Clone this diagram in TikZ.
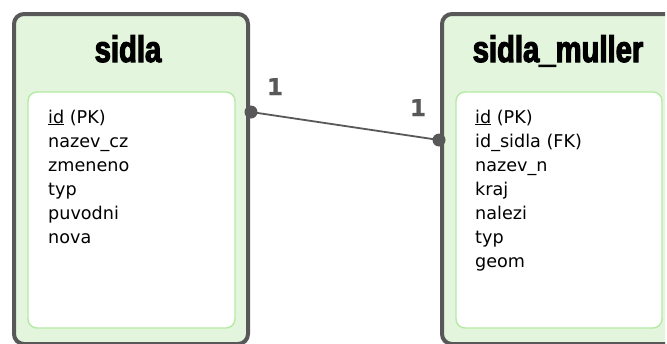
\documentclass[tikz,border=0pt]{standalone}
\usepackage{fontspec}
\setmainfont{DejaVu Sans}
\newfontfamily\titlefont[FakeStretch=0.79,FakeBold=3]{Liberation Sans Bold}
\newfontfamily\cardfont[FakeBold=1]{DejaVu Sans Bold}
\begin{document}
\definecolor{tablefill}{HTML}{E4F5DE}
\definecolor{tableedge}{HTML}{585858}
\definecolor{fieldedge}{HTML}{B4EAA4}
\begin{tikzpicture}[x=1pt,y=-1pt,
  tablebox/.style={draw=tableedge,fill=tablefill,line width=4pt,rounded corners=10pt,
    minimum width=234pt,minimum height=330pt,inner sep=0pt,outer sep=0pt},
  fieldbox/.style={draw=fieldedge,fill=white,line width=1.4pt,rounded corners=9pt,
    minimum height=236pt,inner sep=0pt,outer sep=0pt},
  tabletitle/.style={anchor=base,inner sep=0pt,font=\titlefont\fontsize{37}{37}\selectfont},
  fieldtext/.style={anchor=base west,inner sep=0pt,font=\fontsize{17.6}{20}\selectfont,text=black},
  relline/.style={draw=tableedge,line width=1.8pt},
  reldot/.style={fill=tableedge},
  cardlabel/.style={anchor=base,inner sep=0pt,text=tableedge,font=\cardfont\fontsize{23}{23}\selectfont}]
\useasboundingbox (0,0) rectangle (667,343);
\clip (0,0) rectangle (665,343);

% table: sidla
\node[tablebox] (sidla) at (131,179) {};
\node[fieldbox,minimum width=207pt] (sidlaFields) at (131.5,210) {};
\node[tabletitle] (sidlaTitle) at (128,62) {sidla};
\node[fieldtext] (s1) at (48,123) {\underline{id} (PK)};
\node[fieldtext] (s2) at (48,147) {nazev\_cz};
\node[fieldtext] (s3) at (48,171) {zmeneno};
\node[fieldtext] (s4) at (48,195) {typ};
\node[fieldtext] (s5) at (48,219) {puvodni};
\node[fieldtext] (s6) at (48,243) {nova};

% table: sidla_muller
\node[tablebox] (muller) at (559,179) {};
\node[fieldbox,minimum width=206pt] (mullerFields) at (559,210) {};
\node[tabletitle] (mullerTitle) at (558,62) {sidla\_muller};
\node[fieldtext] (m1) at (475,123) {\underline{id} (PK)};
\node[fieldtext] (m2) at (475,147) {id\_sidla (FK)};
\node[fieldtext] (m3) at (475,171) {nazev\_n};
\node[fieldtext] (m4) at (475,195) {kraj};
\node[fieldtext] (m5) at (475,219) {nalezi};
\node[fieldtext] (m6) at (475,243) {typ};
\node[fieldtext] (m7) at (475,267) {geom};

% one-to-one relation
\coordinate (sidlaPort) at ([xshift=3pt]sidla.east |- 0,112);
\coordinate (mullerPort) at ([xshift=-3pt]muller.west |- 0,140);
\draw[relline] (sidlaPort) -- (mullerPort);
\fill[reldot] (sidlaPort) circle (6.5pt);
\fill[reldot] (mullerPort) circle (6.5pt);
\node[cardlabel] (cardA) at (275,95) {1};
\node[cardlabel] (cardB) at (418,116) {1};
\end{tikzpicture}
\end{document}
